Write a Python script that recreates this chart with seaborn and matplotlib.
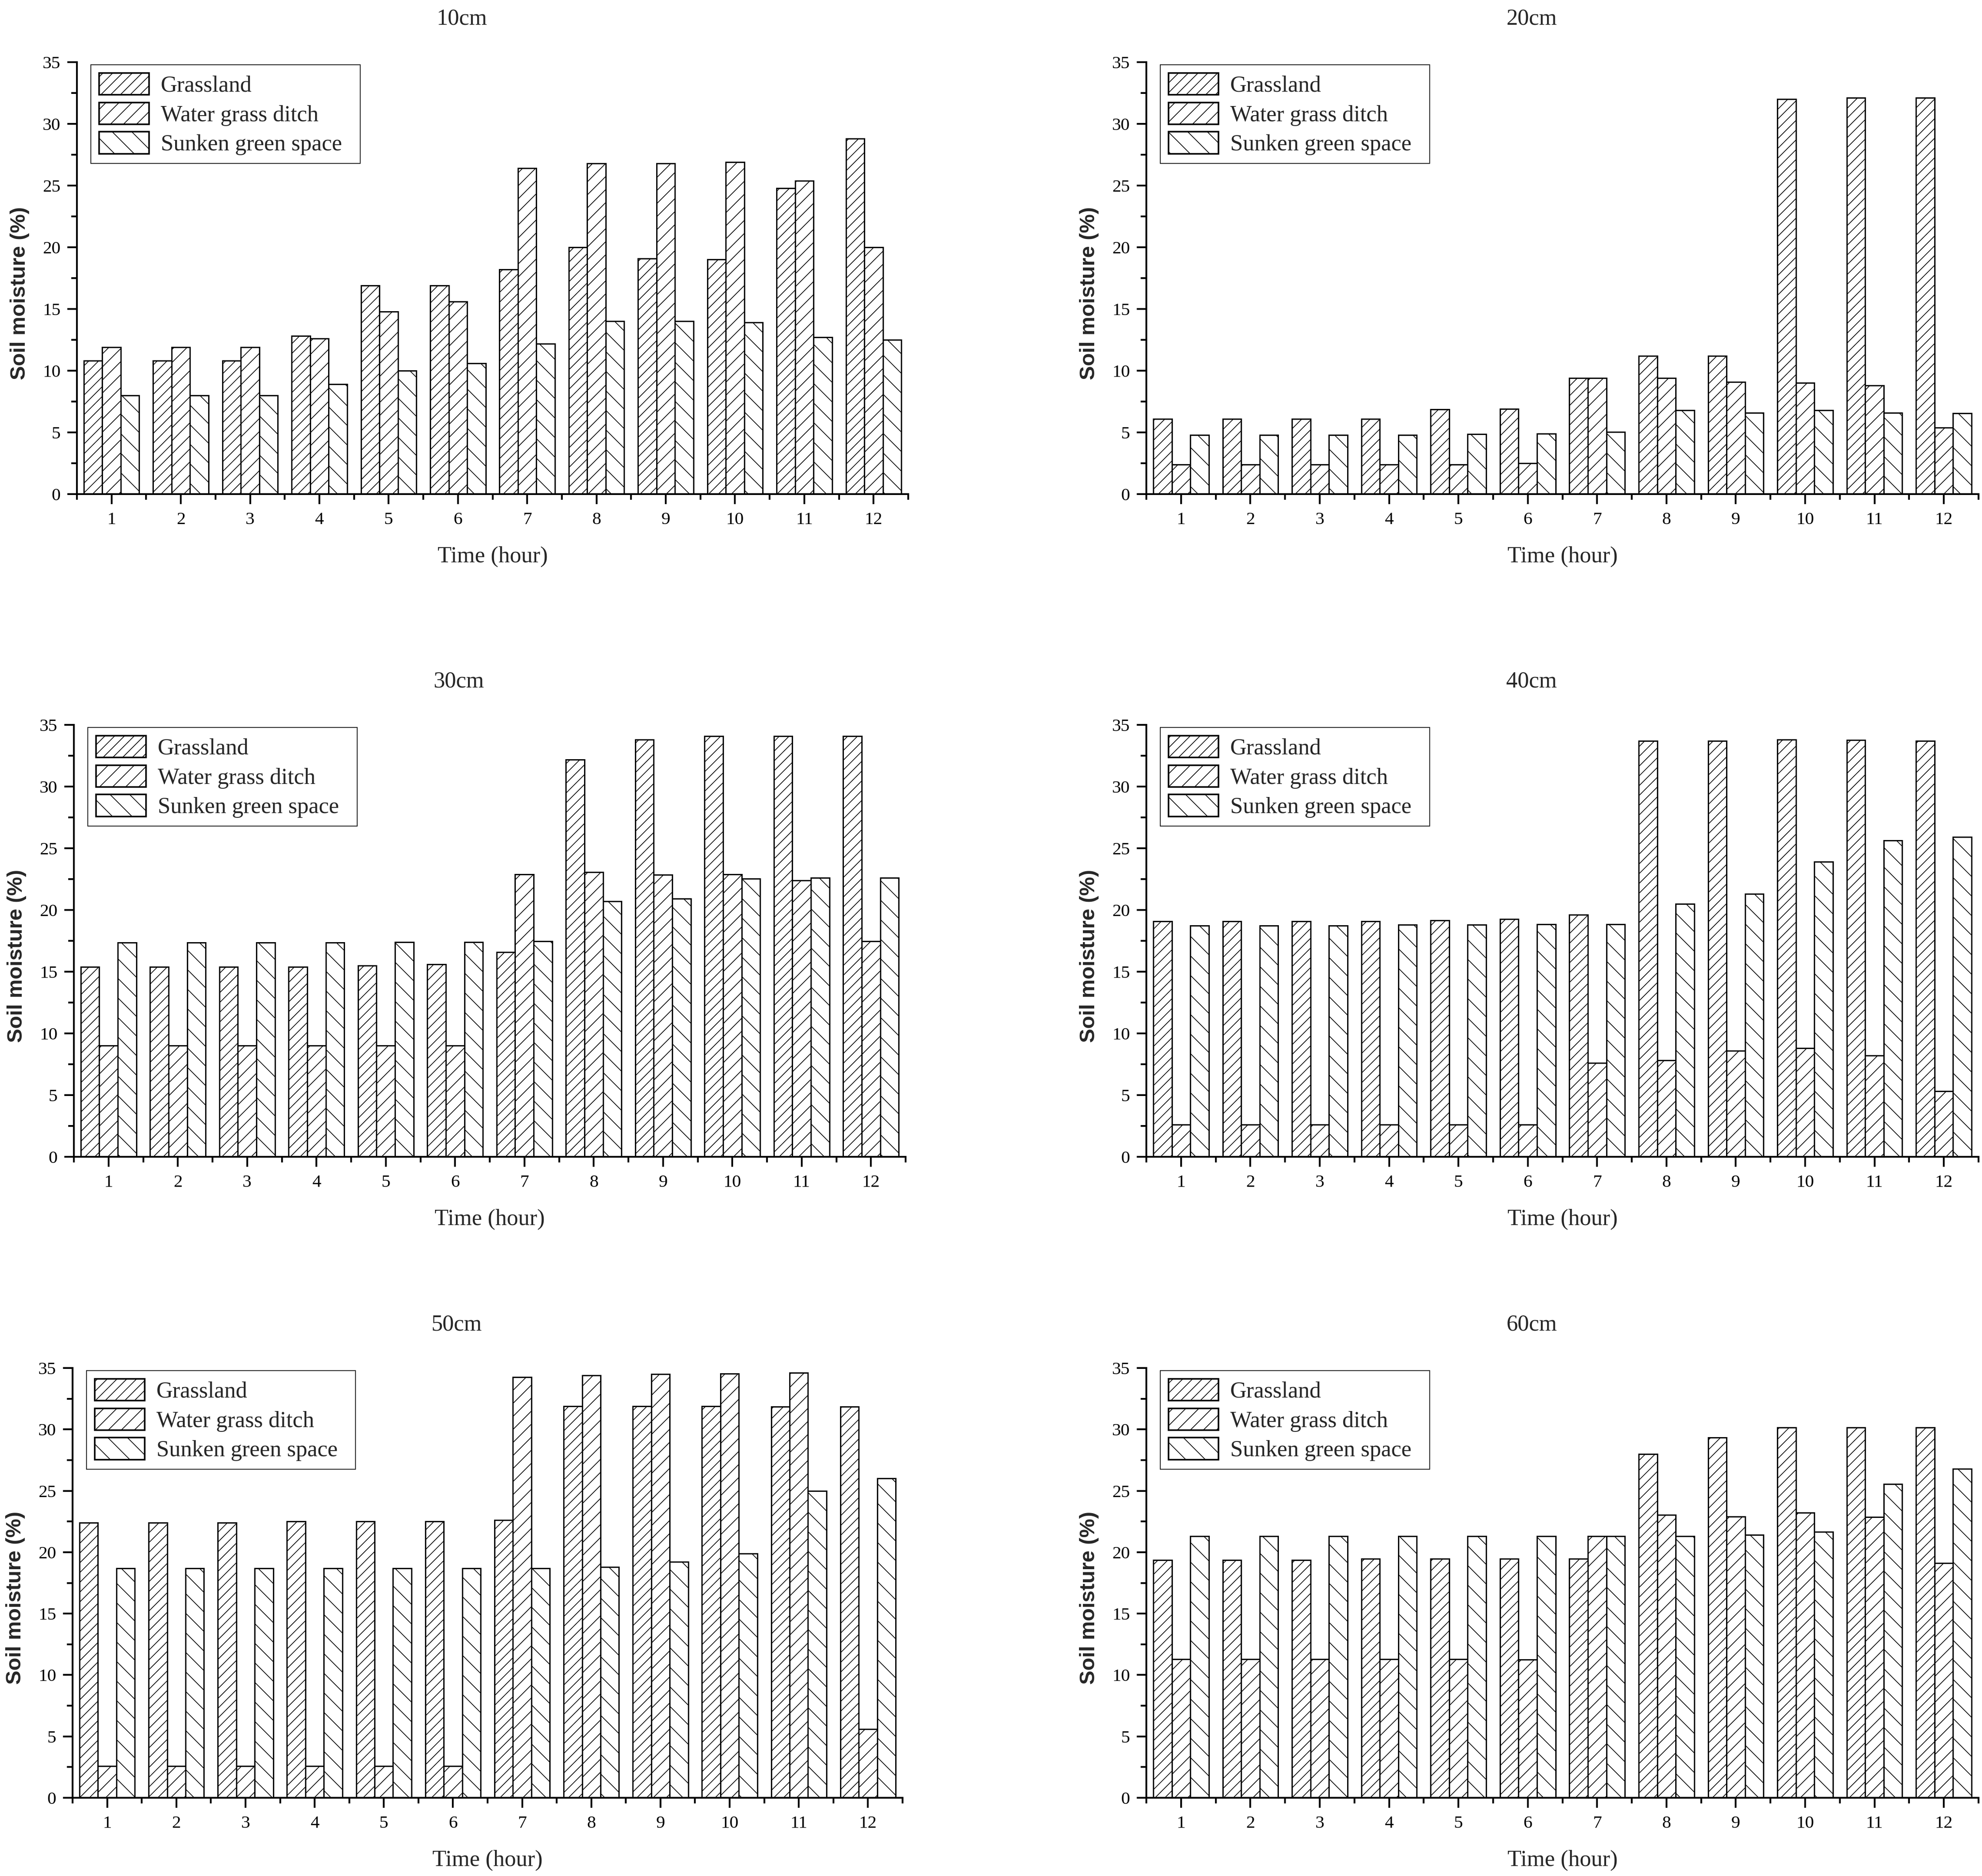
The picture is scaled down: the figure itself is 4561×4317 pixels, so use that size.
import numpy as np
import pandas as pd
import matplotlib
matplotlib.use("Agg")
import matplotlib.pyplot as plt
from matplotlib.ticker import MultipleLocator, FixedLocator
import seaborn as sns

hours = list(range(1, 13))
series_names = ["Grassland", "Water grass ditch", "Sunken green space"]
depths = ["10cm", "20cm", "30cm", "40cm", "50cm", "60cm"]

# soil moisture (%)
grass_10 = [10.8, 10.8, 10.8, 12.8, 16.9, 16.9, 18.2, 20.0, 19.1, 19.0, 24.8, 28.8]
water_10 = [11.9, 11.9, 11.9, 12.6, 14.8, 15.6, 26.4, 26.8, 26.8, 26.9, 25.4, 20.0]
sunken_10 = [8.0, 8.0, 8.0, 8.9, 10.0, 10.6, 12.2, 14.0, 14.0, 13.9, 12.7, 12.5]

grass_20 = [6.1, 6.1, 6.1, 6.1, 6.85, 6.9, 9.4, 11.2, 11.2, 32.0, 32.1, 32.1]
water_20 = [2.4, 2.4, 2.4, 2.4, 2.4, 2.5, 9.4, 9.4, 9.1, 9.0, 8.8, 5.4]
sunken_20 = [4.8, 4.8, 4.8, 4.8, 4.85, 4.9, 5.05, 6.8, 6.6, 6.8, 6.6, 6.55]

grass_30 = [15.4, 15.4, 15.4, 15.4, 15.5, 15.6, 16.6, 32.2, 33.8, 34.1, 34.1, 34.1]
water_30 = [9.0, 9.0, 9.0, 9.0, 9.0, 9.0, 22.9, 23.05, 22.85, 22.9, 22.4, 17.45]
sunken_30 = [17.35, 17.35, 17.35, 17.35, 17.4, 17.4, 17.45, 20.7, 20.9, 22.55, 22.6, 22.6]

grass_40 = [19.1, 19.1, 19.1, 19.1, 19.15, 19.25, 19.6, 33.7, 33.7, 33.8, 33.75, 33.7]
water_40 = [2.6, 2.6, 2.6, 2.6, 2.6, 2.6, 7.6, 7.8, 8.6, 8.8, 8.2, 5.3]
sunken_40 = [18.75, 18.75, 18.75, 18.8, 18.8, 18.85, 18.85, 20.5, 21.3, 23.9, 25.65, 25.9]

grass_50 = [22.4, 22.4, 22.4, 22.5, 22.5, 22.5, 22.6, 31.9, 31.9, 31.9, 31.85, 31.85]
water_50 = [2.6, 2.6, 2.6, 2.6, 2.6, 2.6, 34.25, 34.4, 34.5, 34.55, 34.6, 5.6]
sunken_50 = [18.7, 18.7, 18.7, 18.7, 18.7, 18.7, 18.7, 18.8, 19.2, 19.9, 25.0, 26.0]

grass_60 = [19.35, 19.35, 19.35, 19.45, 19.45, 19.45, 19.45, 28.0, 29.35, 30.15, 30.15, 30.15]
water_60 = [11.3, 11.3, 11.3, 11.3, 11.3, 11.25, 21.3, 23.05, 22.9, 23.2, 22.85, 19.1]
sunken_60 = [21.3, 21.3, 21.3, 21.3, 21.3, 21.3, 21.3, 21.3, 21.4, 21.65, 25.55, 26.8]

panel_data = {
    "10cm": (grass_10, water_10, sunken_10),
    "20cm": (grass_20, water_20, sunken_20),
    "30cm": (grass_30, water_30, sunken_30),
    "40cm": (grass_40, water_40, sunken_40),
    "50cm": (grass_50, water_50, sunken_50),
    "60cm": (grass_60, water_60, sunken_60),
}

W, H, DPI = 4561, 4317, 270

# axes boxes in pixels: left, right, top, bottom
boxes = {
    "10cm": (177, 2090, 143, 1137),
    "20cm": (2638, 4553, 143, 1137),
    "30cm": (170, 2084, 1668, 2662),
    "40cm": (2638, 4553, 1668, 2662),
    "50cm": (167, 2077, 3148, 4137),
    "60cm": (2638, 4553, 3148, 4137),
}

hatches = ["////", "///", "\\\\"]

sns.set_style("ticks")
plt.rcParams.update({
    "font.family": ["Liberation Serif", "DejaVu Serif"],
    "hatch.linewidth": 0.45,
    "hatch.color": "black",
    "axes.linewidth": 1.1,
    "axes.edgecolor": "black",
    "xtick.color": "black",
    "ytick.color": "black",
})

fig = plt.figure(figsize=(W / DPI, H / DPI), dpi=DPI)

for name in depths:
    l, r, t, b = boxes[name]
    ax = fig.add_axes([l / W, 1 - b / H, (r - l) / W, (b - t) / H])

    g, w, s = panel_data[name]
    df = pd.DataFrame({
        "hour": hours * 3,
        "type": [series_names[0]] * 12 + [series_names[1]] * 12 + [series_names[2]] * 12,
        "value": g + w + s,
    })

    sns.barplot(data=df, x="hour", y="value", hue="type", hue_order=series_names,
                palette=["white"] * 3, saturation=1, edgecolor="black",
                linewidth=0.8, width=0.8, errorbar=None, legend=False, ax=ax)

    for cont, hatch in zip(ax.containers, hatches):
        for p in cont:
            p.set_hatch(hatch)

    leg = ax.legend(ax.containers, series_names, loc="upper left",
                    bbox_to_anchor=(0.0167, 0.5, 0.324, 0.494), mode="expand",
                    borderaxespad=0, fontsize=14, handlelength=2.2,
                    handleheight=1.1, labelspacing=0.26, handletextpad=0.5,
                    borderpad=0.36, fancybox=False, framealpha=1,
                    edgecolor="black")
    leg.get_frame().set_linewidth(0.45)
    for hdl in leg.get_patches():
        hdl.set_linewidth(0.95)

    ax.set_xlim(-0.5, 11.5)
    ax.set_ylim(0, 35)
    ax.yaxis.set_major_locator(MultipleLocator(5))
    ax.yaxis.set_minor_locator(MultipleLocator(2.5))
    ax.xaxis.set_minor_locator(FixedLocator(np.arange(-0.5, 12, 1)))
    ax.tick_params(which="major", direction="out", length=6, width=1.1, labelsize=11)
    ax.tick_params(which="minor", direction="out", length=3.4, width=1.1)
    ax.tick_params(axis="x", which="major", pad=5)
    ax.tick_params(axis="y", which="major", pad=4)

    sns.despine(ax=ax)

    ax.set_title(name, x=0.463, pad=23, fontsize=14)
    ax.set_xlabel("Time (hour)", fontsize=14, labelpad=11)
    ax.set_ylabel("Soil moisture (%)", fontsize=13, fontweight="bold",
                  family=["Liberation Sans", "DejaVu Sans"], labelpad=8, y=0.465)

fig.savefig("out.png", dpi=DPI, facecolor="white")
